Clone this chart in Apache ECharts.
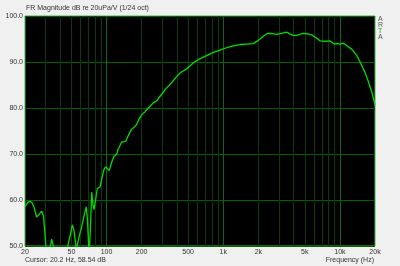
<!DOCTYPE html>
<html><head><meta charset="utf-8">
<script src="https://cdn.jsdelivr.net/npm/echarts@6/dist/echarts.min.js"></script>
<style>html,body{margin:0;padding:0;background:#f0f0f0}#c{width:400px;height:266px}</style>
</head><body><div id="c"></div>
<script>
var freqs = [20,20.4,21.2,22.1,23,24,25.1,26.3,27.8,28.8,29.6,30.3,31.5,32.5,33.9,35,36,40,44.9,47,49,50.9,52.5,54,55.2,56.5,58.4,61,64,67,68.5,70,71,72.5,74.6,76.5,78,80.5,83.3,85.5,87.9,90,92.7,95,98,101.4,105.5,110.7,113,115.8,122,126,130,134.8,140,146.8,153.5,158,164,172,181,190,200,214,228,251,268,287,317,340,364,395,426,486,553,611,721,822,938,1070,1220,1390,1588,1808,1996,2203,2384,2600,2870,3170,3497,3733,3956,4256,4852,5320,5728,6318,6746,7448,8216,8938,9486,10000,10680,11420,12600,13900,14860,16380,17500,18700,20000];
var mags = [58.6,59.0,59.5,59.7,59.4,58.3,56.3,56.8,57.6,56.5,53,49.5,45,49,51.5,50,46,42,48,50.5,52.5,54.6,53.5,51,49,50.5,52.2,54,56.5,58.5,56,51,48,53,61.7,59,57.9,60,62.5,62.6,62.8,64,65.5,66.6,67.2,67.5,66.4,68.2,68.3,69.5,69.9,71.1,71.3,72.6,72.7,72.8,74,74.4,75.4,75.8,76.4,77.6,78.5,79.2,80,81.1,81.5,82.5,84,84.8,85.6,86.7,87.6,88.5,89.8,90.5,91.4,92.1,92.6,93.1,93.5,93.8,93.9,94.0,94.7,95.6,96.2,96.2,96.0,96.2,96.5,96.1,95.8,95.8,96.2,96.1,95.9,95.2,94.6,94.5,94.6,93.9,94.0,93.9,94.1,93.6,92.8,91.5,90.1,87.8,85.8,83.6,80.7];
var tickFreqs = [20,50,100,200,500,1000,2000,5000,10000,20000];
var tickLabels = ['20','50','100','200','500','1k','2k','5k','10k','20k'];
var minorFreqs = [30,40,50,60,70,80,90,200,300,400,500,600,700,800,900,2000,3000,4000,5000,6000,7000,8000,9000];
var majorFreqs = [100,1000,10000];

var chart = echarts.init(document.getElementById('c'));
var data = freqs.map(function(f,i){return [f,mags[i]];});
var font = 'Liberation Sans, Arial, sans-serif';
var ml = [];
minorFreqs.forEach(function(f){ ml.push({xAxis:f, lineStyle:{color:'#0b3a0b',width:1,type:'solid'}, label:{show:false}}); });
majorFreqs.forEach(function(f){ ml.push({xAxis:f, lineStyle:{color:'#0a6a0a',width:1,type:'solid'}, label:{show:false}}); });
chart.setOption({
  backgroundColor:'#f0f0f0',
  animation:false,
  grid:{left:25,right:25,top:16,bottom:20,show:true,backgroundColor:'#000',borderColor:'#3fb83f',borderWidth:1},
  xAxis:{type:'log',logBase:10,min:20,max:20000,axisLine:{show:false},axisTick:{show:false},axisLabel:{show:false},splitLine:{show:false},minorSplitLine:{show:false}},
  yAxis:{type:'value',min:50,max:100,interval:10,axisLine:{show:false},axisTick:{show:false},
    axisLabel:{formatter:function(v){return v.toFixed(1);},color:'#333',fontSize:7,fontFamily:font,margin:2},
    splitLine:{lineStyle:{color:'#006400',width:1}}},
  series:[
    {type:'line',data:[[20,50]],symbol:'none',lineStyle:{opacity:0},silent:true,z:1,
      markLine:{silent:true,symbol:['none','none'],animation:false,data:ml}},
    {type:'line',data:data,symbol:'none',smooth:false,clip:true,z:5,lineStyle:{color:'#00dd00',width:1.3}}
  ]
});
var g = [
  {type:'text',left:26,top:5,style:{text:'FR Magnitude dB re 20uPa/V (1/24 oct)',fill:'#333',font:'7px '+font}},
  {type:'text',left:25,top:257,style:{text:'Cursor: 20.2 Hz, 58.54 dB',fill:'#333',font:'7px '+font}},
  {type:'text',right:26,top:257,style:{text:'Frequency (Hz)',fill:'#333',font:'7px '+font}},
  {type:'text',left:378,top:16,style:{text:'A',fill:'#555',font:'7px '+font}},
  {type:'text',left:378,top:22,style:{text:'R',fill:'#555',font:'7px '+font}},
  {type:'text',left:378,top:28,style:{text:'T',fill:'#2a9a2a',font:'7px '+font}},
  {type:'text',left:378,top:34,style:{text:'A',fill:'#555',font:'7px '+font}}
];
tickFreqs.forEach(function(f,i){
  var p = chart.convertToPixel({xAxisIndex:0,yAxisIndex:0},[f,50]);
  g.push({type:'text',x:p[0],y:p[1]+3,style:{text:tickLabels[i],fill:'#333',font:'7px '+font,align:'center',verticalAlign:'top'}});
});
chart.setOption({graphic:g});
</script></body></html>
